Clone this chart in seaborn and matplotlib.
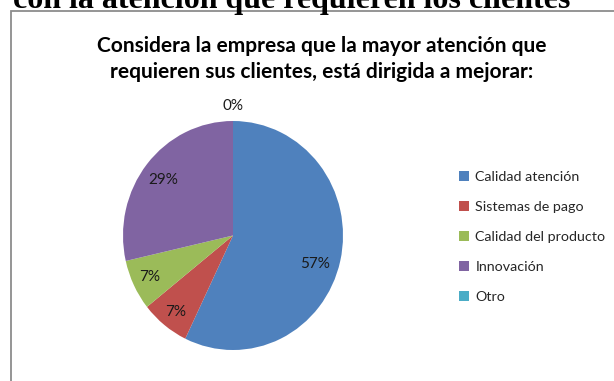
import matplotlib
matplotlib.use("Agg")
import matplotlib.pyplot as plt
import seaborn as sns
import numpy as np
from matplotlib.patches import Rectangle

# Survey answers (number of companies per option)
categories = ["Calidad atención", "Sistemas de pago", "Calidad del producto", "Innovación", "Otro"]
counts = [8, 1, 1, 4, 0]
colors = ["#4F81BD", "#C0504D", "#9BBB59", "#8064A2", "#4BACC6"]

heading = "con la atención que requieren los clientes"
title = "Considera la empresa que la mayor atención que\nrequieren sus clientes, está dirigida a mejorar:"

sns.set_theme(style="white")
plt.rcParams["font.family"] = ["Lato", "DejaVu Sans"]

W, H = 614, 381
fig = plt.figure(figsize=(W / 100, H / 100), dpi=100)
fig.patch.set_facecolor("white")

# document heading above the chart frame
fig.text(13 / W, 1 - 8 / H, heading, family="Liberation Serif", fontweight="bold",
         fontsize=23, ha="left", va="baseline", color="black")

# chart frame (continues past the right and bottom edges)
fig.patches.append(Rectangle((11 / W, -0.1), 1.0, 1 - 11 / H + 0.1,
                             transform=fig.transFigure, fill=False,
                             edgecolor="#8C8C8C", linewidth=1.3))

fig.text(322 / W, 1 - 59 / H, title, ha="center", va="center", fontweight="bold",
         fontsize=15, linespacing=1.4, color="black")

# pie area
ax = fig.add_axes([123 / W, 31 / H, 220 / W, 229 / H])
total = sum(counts)
wedges, _ = ax.pie(counts, colors=colors, startangle=90, counterclock=False,
                   wedgeprops=dict(linewidth=0), radius=1.0)
ax.set_aspect("auto")
ax.set_xlim(-1, 1)
ax.set_ylim(-1, 1)
ax.axis("off")

# percentage labels: distance from the centre and a small angular nudge per wedge
label_dist = [0.79, 0.845, 0.84, 0.80, 1.13]
label_nudge = [-5.7, 0.6, 0.0, 1.3, 0.0]
for w, c, d, da in zip(wedges, counts, label_dist, label_nudge):
    ang = np.deg2rad((w.theta1 + w.theta2) / 2 + da)
    pct = 100 * c / total
    ax.text(d * np.cos(ang), d * np.sin(ang), f"{pct:.0f}%", ha="center", va="center",
            fontsize=11, color="#1a1a1a")

# legend
handles = [Rectangle((0, 0), 1, 1, facecolor=col, edgecolor="none") for col in colors]
fig.legend(handles, categories, loc="upper left", bbox_to_anchor=(459 / W, 1 - 171 / H),
           frameon=False, fontsize=10.3, handlelength=0.7, handleheight=0.7,
           handletextpad=0.45, labelspacing=1.25, borderpad=0, borderaxespad=0)

fig.savefig("out.png", dpi=100, facecolor="white")
